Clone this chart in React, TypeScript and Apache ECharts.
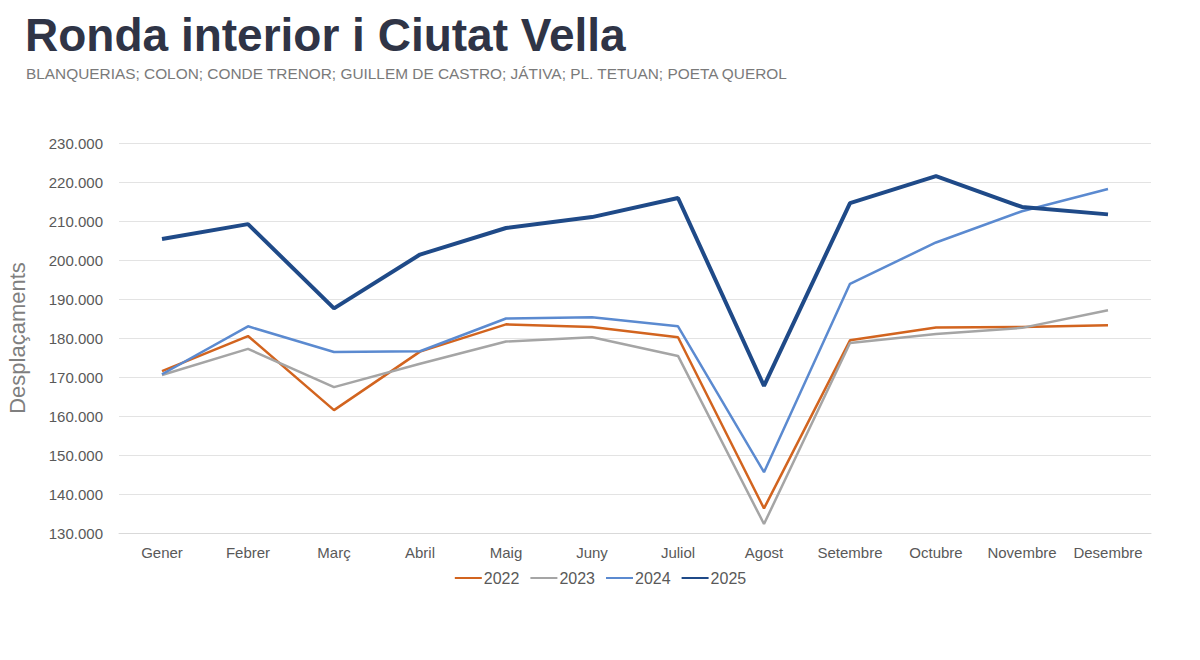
import React, { useEffect, useRef } from "react";
import * as echarts from "echarts";

const months = ["Gener", "Febrer", "Març", "Abril", "Maig", "Juny", "Juliol", "Agost", "Setembre", "Octubre", "Novembre", "Desembre"];
const s2022 = [171500, 180500, 161500, 176500, 183500, 182800, 180200, 136300, 179400, 182700, 182800, 183300];
const s2023 = [170500, 177200, 167400, 173400, 179100, 180200, 175400, 132300, 178700, 181000, 182600, 187100];
const s2024 = [170700, 183000, 176400, 176600, 185000, 185300, 183000, 145600, 193900, 204500, 212500, 218200];
const s2025 = [205400, 209200, 187600, 201400, 208200, 211000, 215900, 167700, 214600, 221500, 213600, 211700];

const title = "Ronda interior i Ciutat Vella";
const subtitle = "BLANQUERIAS; COLON; CONDE TRENOR; GUILLEM DE CASTRO; JÁTIVA; PL. TETUAN; POETA QUEROL";

const fmt = (v: number) => String(v).replace(/\B(?=(\d{3})+(?!\d))/g, ".");

export default function App() {
  const ref = useRef<HTMLDivElement>(null);
  useEffect(() => {
    if (!ref.current) return;
    const chart = echarts.init(ref.current, undefined, { renderer: "svg" });
    const font = "'Liberation Sans', Arial, sans-serif";
    const mk = (name: string, data: number[], color: string, width: number) => ({
      name,
      type: "line",
      data,
      symbol: "none",
      lineStyle: { color, width },
      itemStyle: { color },
      z: name === "2025" ? 5 : 3,
    });
    chart.setOption({
      animation: false,
      backgroundColor: "#ffffff",
      textStyle: { fontFamily: font },
      title: [
        {
          text: title,
          left: 20,
          top: 7,
          textStyle: { fontSize: 46, fontWeight: "bold", color: "#2f3446", fontFamily: font },
        },
        {
          text: subtitle,
          left: 21,
          top: 61,
          textStyle: { fontSize: 15.4, fontWeight: "normal", color: "#7a7a7a", fontFamily: font },
        },
      ],
      legend: {
        bottom: 69,
        left: "center",
        itemWidth: 27,
        itemHeight: 4,
        itemGap: 10,
        itemStyle: { opacity: 0 },
        textStyle: { fontSize: 16, color: "#595959", fontFamily: font, padding: [0, 0, 0, -3] },
        data: ["2022", "2023", "2024", "2025"],
      },
      grid: { left: 119, right: 49, top: 143, bottom: 127, outerBoundsMode: "none", containLabel: false },
      xAxis: {
        type: "category",
        data: months,
        boundaryGap: true,
        axisLine: { show: true, lineStyle: { color: "#d9d9d9" } },
        axisTick: { show: false },
        axisLabel: { fontSize: 15, color: "#595959", margin: 12, interval: 0, fontFamily: font },
      },
      yAxis: {
        type: "value",
        min: 130000,
        max: 230000,
        interval: 10000,
        name: "Desplaçaments",
        nameLocation: "middle",
        nameGap: 91,
        nameRotate: 90,
        nameTextStyle: { fontSize: 22, color: "#7f7f7f", fontFamily: font },
        axisLine: { show: false },
        axisTick: { show: false },
        axisLabel: { fontSize: 15, color: "#595959", margin: 16, formatter: (v: number) => fmt(v), fontFamily: font },
        splitLine: { lineStyle: { color: "#e3e3e3", width: 1 } },
      },
      series: [
        mk("2022", s2022, "#d2641f", 2.5),
        mk("2023", s2023, "#a5a5a5", 2.5),
        mk("2024", s2024, "#5b8ad0", 2.5),
        mk("2025", s2025, "#1f4a88", 4),
      ],
    });
    return () => chart.dispose();
  }, []);
  return <div ref={ref} style={{ position: "absolute", left: 0, top: 0, width: 1200, height: 660 }} />;
}
